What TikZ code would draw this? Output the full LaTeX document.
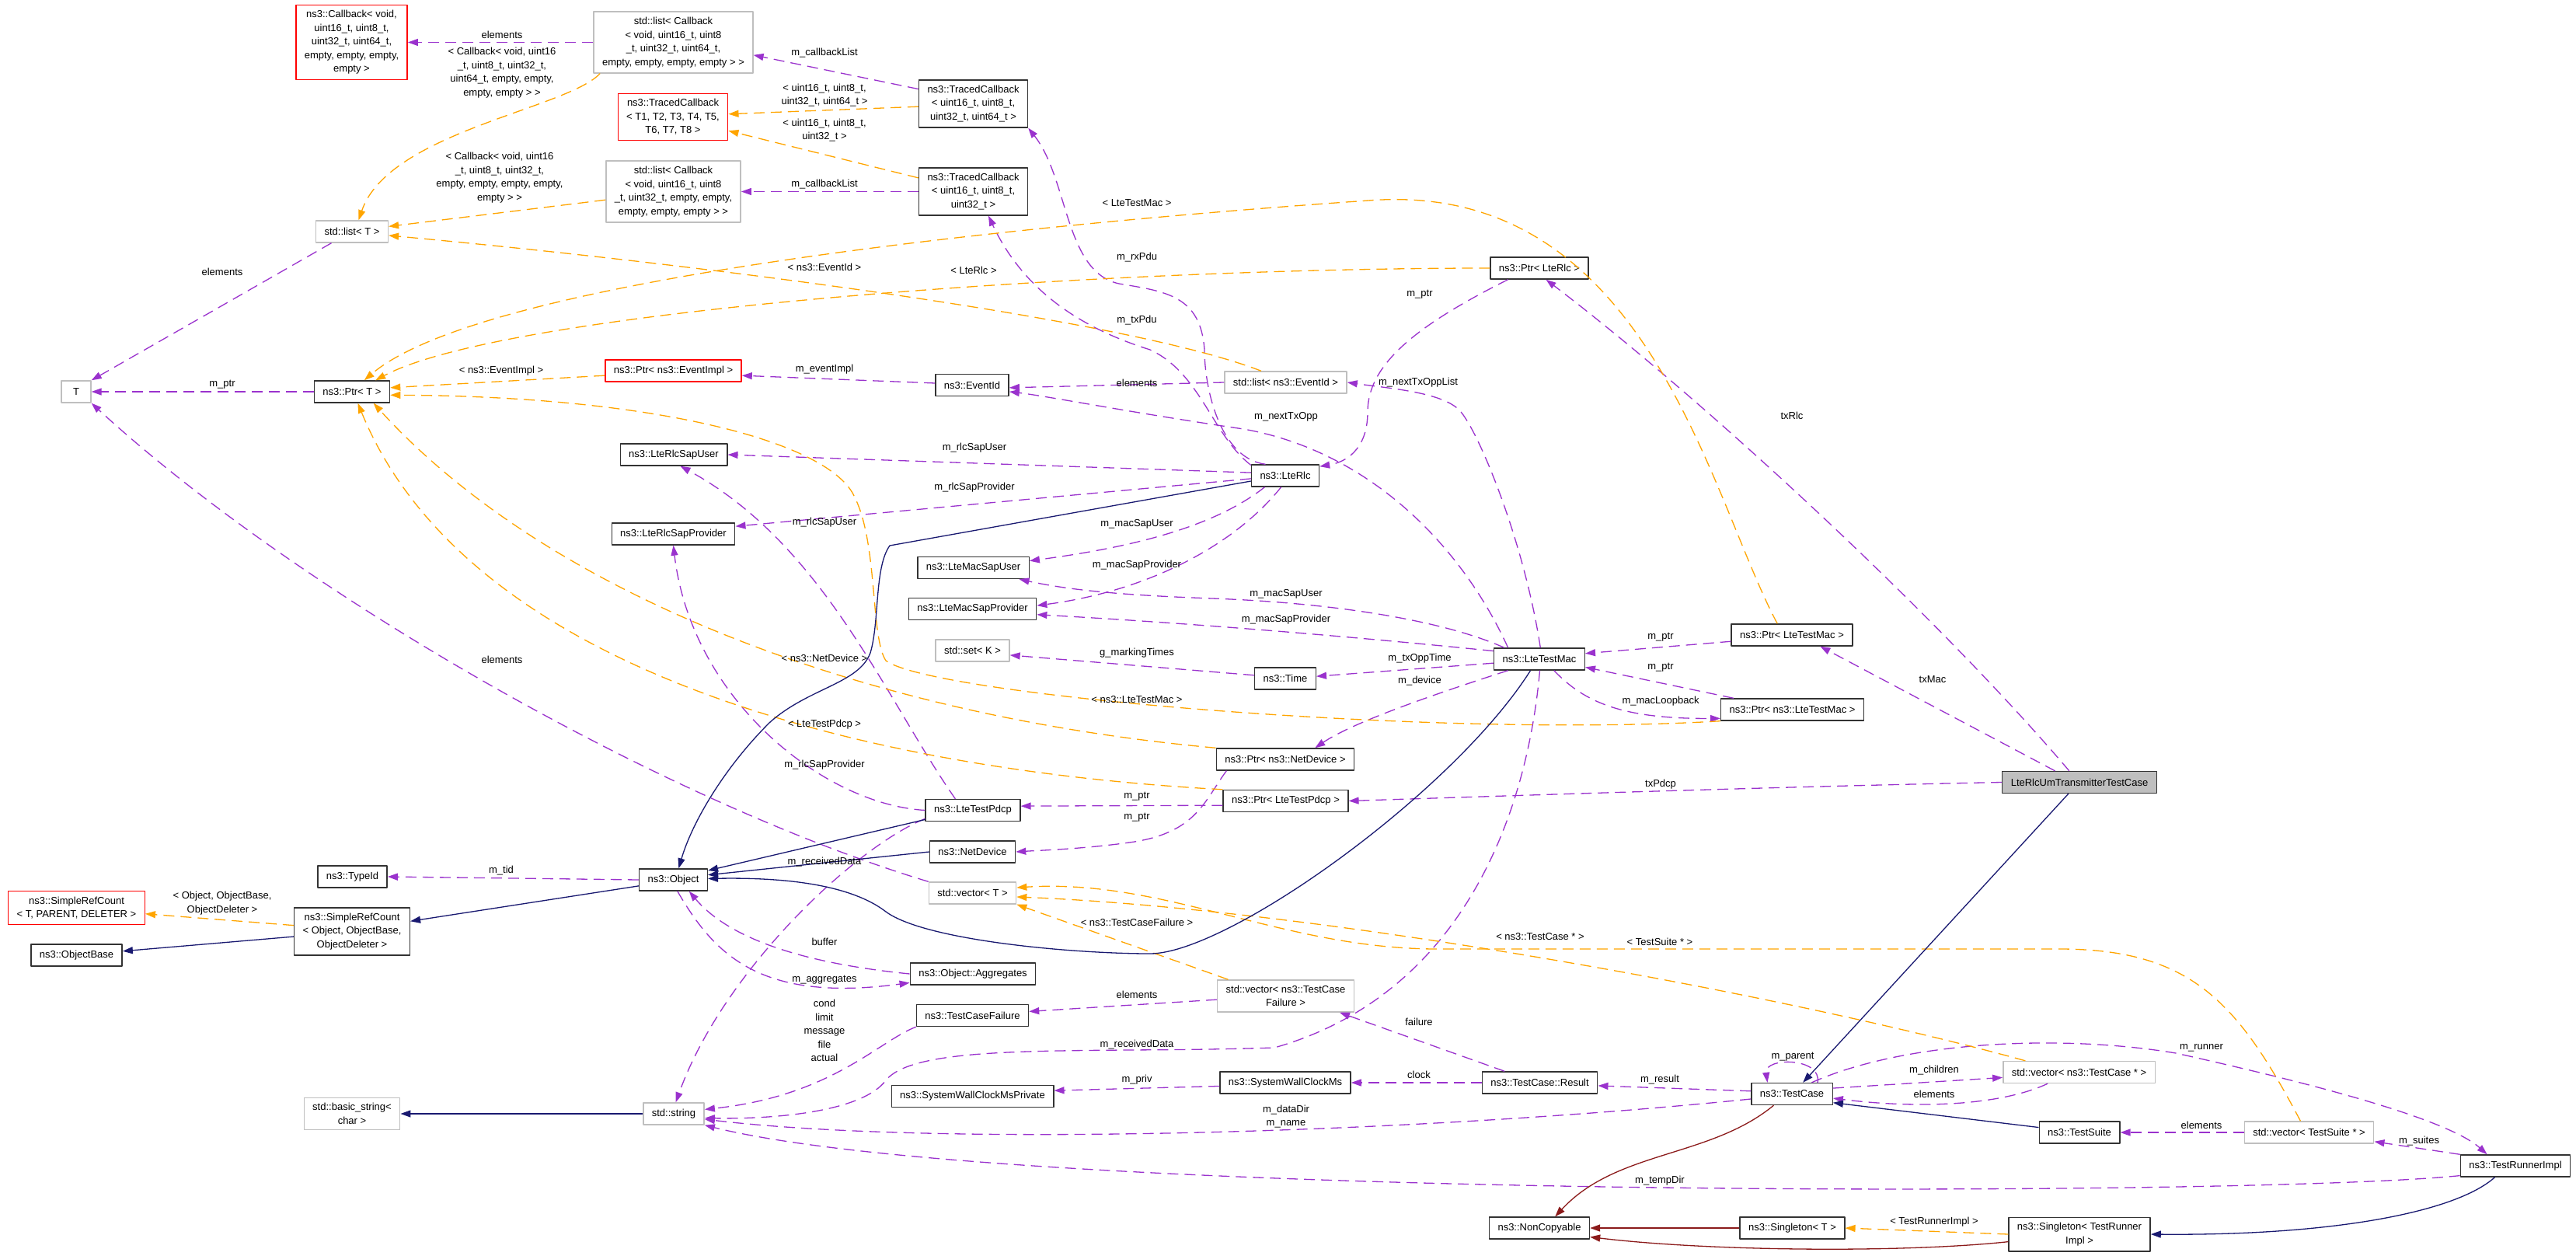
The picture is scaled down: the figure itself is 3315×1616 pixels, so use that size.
\documentclass[tikz,border=0pt]{standalone}
\usepackage{fontspec}
\setmainfont{Liberation Sans}
\usetikzlibrary{arrows.meta}
\definecolor{memclr}{HTML}{9A32CD}
\definecolor{tplclr}{HTML}{FFA500}
\definecolor{inhclr}{HTML}{191970}
\definecolor{privclr}{HTML}{8B1A1A}
\definecolor{extclr}{HTML}{BFBFBF}

\begin{document}
\begin{tikzpicture}[x=1pt,y=-1pt,line join=round,
  font=\fontsize{13}{17.5}\selectfont,
  box/.style={draw=black!80,line width=1.4pt,fill=white,inner xsep=11pt,inner ysep=7pt,minimum height=28pt,align=center},
  ext/.style={box,draw=extclr},
  undoc/.style={box,draw=red},
  root/.style={box,fill=extclr},
  lbl/.style={inner sep=0pt,align=center},
  edge/.style={line width=1.3pt,-{Triangle[length=13pt,width=9pt]}},
  mem/.style={edge,dash pattern=on 14pt off 8pt,color=memclr},
  tpl/.style={edge,dash pattern=on 14pt off 8pt,color=tplclr},
  inh/.style={edge,color=inhclr},
  priv/.style={edge,color=privclr}]
  \useasboundingbox (0,0) rectangle (3315,1616);

  % classes
  \node[undoc] (cbk) at (452.5,54.5) {ns3::Callback< void,\\uint16\_t, uint8\_t,\\uint32\_t, uint64\_t,\\empty, empty, empty,\\empty >};
  \node[ext] (lstA) at (866.5,54.5) {std::list< Callback\\< void, uint16\_t, uint8\\\_t, uint32\_t, uint64\_t,\\empty, empty, empty, empty > >};
  \node[undoc] (tcb) at (866,150.5) {ns3::TracedCallback\\< T1, T2, T3, T4, T5,\\T6, T7, T8 >};
  \node[box] (tcA) at (1252.5,133.5) {ns3::TracedCallback\\< uint16\_t, uint8\_t,\\uint32\_t, uint64\_t >};
  \node[box] (tcB) at (1252.5,246.5) {ns3::TracedCallback\\< uint16\_t, uint8\_t,\\uint32\_t >};
  \node[ext] (lstB) at (866.5,246.5) {std::list< Callback\\< void, uint16\_t, uint8\\\_t, uint32\_t, empty, empty,\\empty, empty, empty > >};
  \node[ext] (lstT) at (453,298) {std::list< T >};
  \node[ext,minimum width=38pt] (tT) at (98,504) {T};
  \node[box] (ptrT) at (453,504) {ns3::Ptr< T >};
  \node[undoc] (ptrEv) at (866.5,477) {ns3::Ptr< ns3::EventImpl >};
  \node[box] (evId) at (1251,495.5) {ns3::EventId};
  \node[ext] (lstEv) at (1654.5,492) {std::list< ns3::EventId >};
  \node[box] (ptrRlc) at (1981,345) {ns3::Ptr< LteRlc >};
  \node[box] (rlcUser) at (867,585) {ns3::LteRlcSapUser};
  \node[box] (rlcProv) at (866.5,687) {ns3::LteRlcSapProvider};
  \node[box] (rlc) at (1654,612) {ns3::LteRlc};
  \node[box] (macUser) at (1252.5,730.5) {ns3::LteMacSapUser};
  \node[box] (macProv) at (1251.5,783.5) {ns3::LteMacSapProvider};
  \node[ext] (setK) at (1251.5,837) {std::set< K >};
  \node[box] (time) at (1654,873) {ns3::Time};
  \node[box] (mac) at (1981,848) {ns3::LteTestMac};
  \node[box] (ptrMac) at (2306,817) {ns3::Ptr< LteTestMac >};
  \node[box] (ptrNsMac) at (2306.5,913) {ns3::Ptr< ns3::LteTestMac >};
  \node[box] (ptrDev) at (1654,977) {ns3::Ptr< ns3::NetDevice >};
  \node[box] (ptrPdcp) at (1654.5,1030.5) {ns3::Ptr< LteTestPdcp >};
  \node[box] (pdcp) at (1252,1042.5) {ns3::LteTestPdcp};
  \node[root] (umtx) at (2676,1006.5) {LteRlcUmTransmitterTestCase};
  \node[box] (typeId) at (453.5,1128) {ns3::TypeId};
  \node[undoc] (srcT) at (98.5,1168) {ns3::SimpleRefCount\\< T, PARENT, DELETER >};
  \node[box] (srcObj) at (453,1198.5) {ns3::SimpleRefCount\\< Object, ObjectBase,\\ObjectDeleter >};
  \node[box] (objBase) at (98.5,1229) {ns3::ObjectBase};
  \node[ext] (bstr) at (453,1433) {std::basic\_string<\\char >};
  \node[box] (obj) at (866.5,1132) {ns3::Object};
  \node[box] (dev) at (1251.5,1096) {ns3::NetDevice};
  \node[ext] (vecT) at (1251.5,1149) {std::vector< T >};
  \node[box] (aggr) at (1252,1253) {ns3::Object::Aggregates};
  \node[box] (fail) at (1251.5,1306.5) {ns3::TestCaseFailure};
  \node[ext] (vecFail) at (1654.5,1281.5) {std::vector< ns3::TestCase\\Failure >};
  \node[ext] (str) at (867,1433) {std::string};
  \node[box] (clkPriv) at (1251.5,1410.5) {ns3::SystemWallClockMsPrivate};
  \node[box] (clk) at (1654,1393) {ns3::SystemWallClockMs};
  \node[box] (result) at (1981.5,1393) {ns3::TestCase::Result};
  \node[box] (tcase) at (2306,1407.5) {ns3::TestCase};
  \node[box] (noCopy) at (1981,1580) {ns3::NonCopyable};
  \node[box] (singT) at (2306.5,1580) {ns3::Singleton< T >};
  \node[ext] (vecTC) at (2675.5,1379.5) {std::vector< ns3::TestCase * >};
  \node[box] (suite) at (2676,1457) {ns3::TestSuite};
  \node[ext] (vecTS) at (2971.5,1457) {std::vector< TestSuite * >};
  \node[box] (runner) at (3237,1500) {ns3::TestRunnerImpl};
  \node[box] (singTR) at (2676,1588) {ns3::Singleton< TestRunner\\Impl >};

  % members
  \draw[mem] (lstA.west) -- (cbk.east);
  \draw[mem] (tcA.165) -- (lstA.-9);
  \draw[mem] (tcB.west) -- (lstB.east);
  \draw[mem] (rlc.150) .. controls (1570,590) and (1550,500) .. (1550,450) .. controls (1545,380) and (1500,375) .. (1440,365) .. controls (1370,350) and (1375,230) .. (tcA.south east);
  \draw[mem] (rlc.163) .. controls (1560,560) and (1545,480) .. (1480,450) .. controls (1400,425) and (1320,380) .. (tcB.-58);
  \draw[mem] (lstEv.west) -- (evId.-4);
  \draw[mem] (evId.177) -- (ptrEv.-4);
  \draw[mem] (mac.85) .. controls (1962,700) and (1905,560) .. (1880,530) .. controls (1860,505) and (1790,500) .. (lstEv.east);
  \draw[mem] (mac.160) .. controls (1880,700) and (1760,580) .. (1600,552) .. controls (1450,530) and (1350,510) .. (evId.-10);
  \draw[mem] (ptrRlc.-160) .. controls (1820,420) and (1760,470) .. (1760,530) .. controls (1760,580) and (1730,595) .. (rlc.15);
  \draw[mem] (umtx.132) .. controls (2500,800) and (2200,520) .. (ptrRlc.-60);
  \draw[mem] (umtx.155) -- (ptrMac.-22);
  \draw[mem] (umtx.west) .. controls (2300,1012) and (2000,1022) .. (ptrPdcp.east);
  \draw[mem] (ptrMac.-174) -- (mac.7);
  \draw[mem] (ptrNsMac.169) -- (mac.-10);
  \draw[mem] (mac.-38) .. controls (2040,905) and (2090,925) .. (ptrNsMac.-173);
  \draw[mem] (rlc.175) -- (rlcUser.east);
  \draw[mem] (rlc.-175) -- (rlcProv.7);
  \draw[mem] (rlc.-151) .. controls (1560,680) and (1450,705) .. (macUser.7);
  \draw[mem] (rlc.-110) .. controls (1590,700) and (1480,760) .. (macProv.3);
  \draw[mem] (mac.162) .. controls (1850,795) and (1700,775) .. (1560,770) .. controls (1450,766) and (1380,760) .. (macUser.-14);
  \draw[mem] (mac.170) .. controls (1700,815) and (1500,800) .. (macProv.-5);
  \draw[mem] (mac.-175) -- (time.4);
  \draw[mem] (time.174) -- (setK.-7);
  \draw[mem] (mac.-160) .. controls (1840,895) and (1740,930) .. (ptrDev.21);
  \draw[mem] (ptrDev.-169) .. controls (1550,1030) and (1540,1070) .. (1460,1083) .. controls (1400,1092) and (1340,1094) .. (dev.east);
  \draw[mem] (ptrPdcp.-176) -- (pdcp.5);
  \draw[mem] (pdcp.147) .. controls (1140,900) and (1060,700) .. (rlcUser.-60);
  \draw[mem] (pdcp.west) .. controls (1060,1035) and (890,900) .. (rlcProv.south);
  \draw[mem] (pdcp.-170) .. controls (1100,1090) and (930,1250) .. (str.80);
  \draw[mem] (obj.west) -- (typeId.east);
  \draw[mem] (aggr.west) .. controls (1040,1240) and (940,1210) .. (obj.-36);
  \draw[mem] (obj.-70) .. controls (920,1230) and (980,1290) .. (aggr.-172);
  \draw[mem] (vecT.north west) .. controls (850,1030) and (380,760) .. (tT.south east);
  \draw[mem] (lstT.-151) -- (tT.north east);
  \draw[mem] (ptrT.west) -- (tT.east);
  \draw[mem] (fail.south west) .. controls (1130,1340) and (1070,1410) .. (str.8);
  \draw[mem] (vecFail.-177) -- (fail.4);
  \draw[mem] (result.162) -- (vecFail.-17);
  \draw[mem] (result.west) -- (clk.east);
  \draw[mem] (clk.-177) -- (clkPriv.4);
  \draw[mem] (tcase.176) -- (result.-3);
  \draw[mem] (tcase.-173) .. controls (1800,1460) and (1200,1475) .. (str.-10);
  \draw[mem] (runner.-170) .. controls (2900,1540) and (1300,1545) .. (str.south east);
  \draw[mem] (mac.-88) .. controls (1965,1050) and (1880,1280) .. (1640,1348) .. controls (1400,1356) and (1180,1340) .. (1140,1390) .. controls (1110,1430) and (1000,1440) .. (str.-8);
  \draw[mem] (tcase.24) .. controls (2345,1360) and (2270,1360) .. (tcase.155);
  \draw[mem] (tcase.8) -- (vecTC.-176);
  \draw[mem] (vecTC.-160) .. controls (2580,1420) and (2480,1428) .. (tcase.-6);
  \draw[mem] (tcase.30) .. controls (2450,1340) and (2650,1330) .. (2800,1355) .. controls (2980,1395) and (3150,1440) .. (runner.158);
  \draw[mem] (runner.north west) -- (vecTS.-8);
  \draw[mem] (vecTS.west) -- (suite.east);

  % templates
  \draw[tpl] (lstA.-157) .. controls (730,140) and (500,170) .. (lstT.60);
  \draw[tpl] (lstB.-173) -- (lstT.8);
  \draw[tpl] (lstEv.155) .. controls (1450,410) and (900,340) .. (lstT.-6);
  \draw[tpl] (tcA.-177) -- (tcb.3);
  \draw[tpl] (tcB.166) -- (tcb.-14);
  \draw[tpl] (ptrEv.-176) -- (ptrT.6);
  \draw[tpl] (ptrRlc.west) .. controls (1400,345) and (650,400) .. (ptrT.26);
  \draw[tpl] (ptrMac.142) .. controls (2200,640) and (2120,230) .. (1761,258) .. controls (1300,290) and (620,360) .. (ptrT.43);
  \draw[tpl] (ptrNsMac.south west) .. controls (1850,950) and (1200,895) .. (1140,850) .. controls (1120,820) and (1130,700) .. (1100,640) .. controls (1070,570) and (850,510) .. (ptrT.-5);
  \draw[tpl] (ptrDev.north west) .. controls (1100,920) and (700,760) .. (ptrT.-28);
  \draw[tpl] (ptrPdcp.north west) .. controls (1100,990) and (600,860) .. (ptrT.-63);
  \draw[tpl] (vecFail.164) -- (vecT.south east);
  \draw[tpl] (vecTC.168) .. controls (2300,1280) and (1700,1170) .. (vecT.-5);
  \draw[tpl] (vecTS.127) .. controls (2880,1290) and (2820,1221) .. (2650,1221) -- (1850,1221) .. controls (1650,1221) and (1500,1130) .. (vecT.7);
  \draw[tpl] (singTR.west) -- (singT.east);
  \draw[tpl] (srcObj.174) -- (srcT.-5);

  % inheritance
  \draw[inh] (rlc.-171) -- (1145,702) .. controls (1125,730) and (1132,800) .. (1120,840) .. controls (1105,880) and (1040,885) .. (990,930) .. controls (930,990) and (890,1060) .. (obj.65);
  \draw[inh] (pdcp.-169) -- (obj.15);
  \draw[inh] (dev.west) -- (obj.8);
  \draw[inh] (mac.-128) .. controls (1870,1020) and (1580,1227) .. (1480,1227) .. controls (1380,1227) and (1190,1210) .. (1140,1173) .. controls (1110,1150) and (1050,1128) .. (obj.2);
  \draw[inh] (obj.-170) -- (srcObj.10);
  \draw[inh] (srcObj.-175) -- (objBase.5);
  \draw[inh] (str.west) -- (bstr.east);
  \draw[inh] (umtx.-134) -- (tcase.46);
  \draw[inh] (suite.173) -- (tcase.-12);
  \draw[inh] (runner.-151) .. controls (3160,1560) and (3000,1590) .. (singTR.east);
  \draw[priv] (tcase.-148) .. controls (2200,1490) and (2080,1480) .. (noCopy.36);
  \draw[priv] (singT.west) -- (noCopy.east);
  \draw[priv] (singTR.-174) .. controls (2450,1612) and (2200,1610) .. (noCopy.-10);

  % edge labels
  \node[lbl] (l1) at (646,45) {elements};
  \node[lbl] (l2) at (646,93.6) {< Callback< void, uint16\\\_t, uint8\_t, uint32\_t,\\uint64\_t, empty, empty,\\empty, empty > >};
  \node[lbl] (l3) at (643,228.7) {< Callback< void, uint16\\\_t, uint8\_t, uint32\_t,\\empty, empty, empty, empty,\\empty > >};
  \node[lbl] (l4) at (1061,68) {m\_callbackList};
  \node[lbl] (l5) at (1061,122.5) {< uint16\_t, uint8\_t,\\uint32\_t, uint64\_t >};
  \node[lbl] (l6) at (1061,167.5) {< uint16\_t, uint8\_t,\\uint32\_t >};
  \node[lbl] (l7) at (1061,237) {m\_callbackList};
  \node[lbl] (l8) at (1463,261) {< LteTestMac >};
  \node[lbl] (l9) at (1463,331) {m\_rxPdu};
  \node[lbl] (l10) at (1061,344) {< ns3::EventId >};
  \node[lbl] (l11) at (1253,348) {< LteRlc >};
  \node[lbl] (l12) at (1463,412) {m\_txPdu};
  \node[lbl] (l13) at (1061,475) {m\_eventImpl};
  \node[lbl] (l14) at (1463,493) {elements};
  \node[lbl] (l15) at (286,350) {elements};
  \node[lbl] (l16) at (286,495) {m\_ptr};
  \node[lbl] (l17) at (645,477) {< ns3::EventImpl >};
  \node[lbl] (l18) at (1827,379) {m\_ptr};
  \node[lbl] (l19) at (1825,492) {m\_nextTxOppList};
  \node[lbl] (l20) at (2306,535) {txRlc};
  \node[lbl] (l21) at (1655,536) {m\_nextTxOpp};
  \node[lbl] (l22) at (1254,576) {m\_rlcSapUser};
  \node[lbl] (l23) at (1254,627) {m\_rlcSapProvider};
  \node[lbl] (l24) at (1061,672) {m\_rlcSapUser};
  \node[lbl] (l25) at (1463,674) {m\_macSapUser};
  \node[lbl] (l26) at (1463,727) {m\_macSapProvider};
  \node[lbl] (l27) at (1655,764) {m\_macSapUser};
  \node[lbl] (l28) at (1655,797) {m\_macSapProvider};
  \node[lbl] (l29) at (1463,840) {g\_markingTimes};
  \node[lbl] (l30) at (1061,847) {< ns3::NetDevice >};
  \node[lbl] (l31) at (1827,847) {m\_txOppTime};
  \node[lbl] (l32) at (1827,876) {m\_device};
  \node[lbl] (l33) at (2137,820) {m\_ptr};
  \node[lbl] (l34) at (2137,859) {m\_ptr};
  \node[lbl] (l35) at (2137,902) {m\_macLoopback};
  \node[lbl] (l36) at (2487,874) {txMac};
  \node[lbl] (l37) at (1463,900) {< ns3::LteTestMac >};
  \node[lbl] (l38) at (1061,932) {< LteTestPdcp >};
  \node[lbl] (l39) at (1061,984) {m\_rlcSapProvider};
  \node[lbl] (l40) at (2137,1009) {txPdcp};
  \node[lbl] (l41) at (1463,1025) {m\_ptr};
  \node[lbl] (l42) at (1463,1052) {m\_ptr};
  \node[lbl] (l43) at (1061,1109) {m\_receivedData};
  \node[lbl] (l44) at (645,1120) {m\_tid};
  \node[lbl] (l45) at (286,1162) {< Object, ObjectBase,\\ObjectDeleter >};
  \node[lbl] (l46) at (1463,1187) {< ns3::TestCaseFailure >};
  \node[lbl] (l47) at (1982,1205) {< ns3::TestCase * >};
  \node[lbl] (l48) at (2136,1212) {< TestSuite * >};
  \node[lbl] (l49) at (1061,1212) {buffer};
  \node[lbl] (l50) at (1061,1261) {m\_aggregates};
  \node[lbl] (l51) at (1463,1280) {elements};
  \node[lbl] (l52) at (1061,1326) {cond\\limit\\message\\file\\actual};
  \node[lbl] (l53) at (1826,1315) {failure};
  \node[lbl] (l54) at (1463,1344) {m\_receivedData};
  \node[lbl] (l55) at (2833,1348) {m\_runner};
  \node[lbl] (l56) at (2307,1360) {m\_parent};
  \node[lbl] (l57) at (2489,1377) {m\_children};
  \node[lbl] (l58) at (1826,1383) {clock};
  \node[lbl] (l59) at (1463,1389) {m\_priv};
  \node[lbl] (l60) at (2136,1389) {m\_result};
  \node[lbl] (l61) at (2489,1408) {elements};
  \node[lbl] (l62) at (1655,1436.5) {m\_dataDir\\m\_name};
  \node[lbl] (l63) at (2833,1448) {elements};
  \node[lbl] (l64) at (3113,1468) {m\_suites};
  \node[lbl] (l65) at (2136,1519) {m\_tempDir};
  \node[lbl] (l66) at (2489,1572) {< TestRunnerImpl >};
  \node[lbl] (l67) at (646,849) {elements};
\end{tikzpicture}
\end{document}
